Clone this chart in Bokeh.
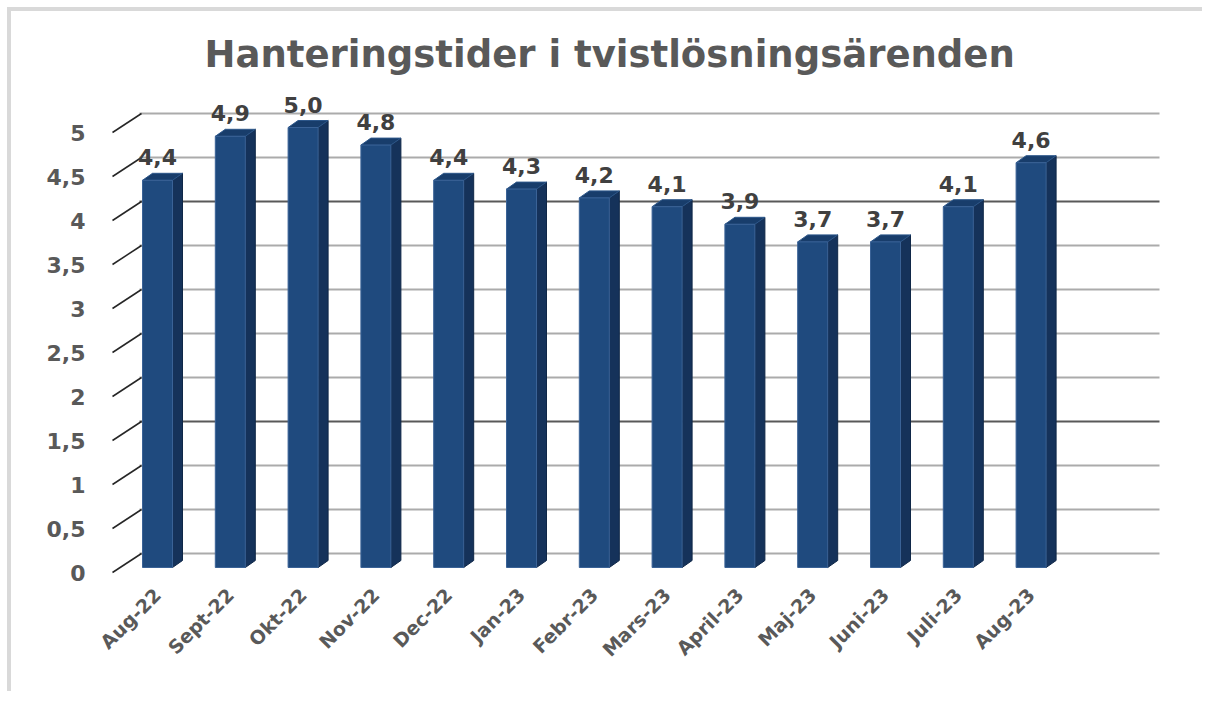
import math
from bokeh.plotting import figure
from bokeh.models import Range1d, FixedTicker, Title
from bokeh.embed import file_html
from bokeh.resources import INLINE

# ---------------- data ----------------
months = ["Aug-22", "Sept-22", "Okt-22", "Nov-22", "Dec-22", "Jan-23", "Febr-23",
          "Mars-23", "April-23", "Maj-23", "Juni-23", "Juli-23", "Aug-23"]
values = [4.4, 4.9, 5.0, 4.8, 4.4, 4.3, 4.2, 4.1, 3.9, 3.7, 3.7, 4.1, 4.6]
value_labels = ["4,4", "4,9", "5,0", "4,8", "4,4", "4,3", "4,2", "4,1", "3,9",
                "3,7", "3,7", "4,1", "4,6"]
y_ticks = [0, 0.5, 1, 1.5, 2, 2.5, 3, 3.5, 4, 4.5, 5]
y_tick_labels = ["0", "0,5", "1", "1,5", "2", "2,5", "3", "3,5", "4", "4,5", "5"]
title_text = "Hanteringstider i tvistlösningsärenden"

# ---------------- geometry (pixels -> data units) ----------------
XS = 72.8   # px per category
YS = 88.0   # px per value unit
half_w = 15 / XS          # half bar width
bar_base = 5 / YS         # bars sit a bit behind the label plane
ddx, ddy = 10 / XS, 7 / YS  # bar depth
wall_dy = 19 / YS         # back wall offset
wall_x0, wall_x1 = -18 / XS, 1002 / XS
diag_x0, diag_x1 = -45 / XS, -16 / XS

FONT = "DejaVu Sans"
GREY = "#595959"

p = figure(width=1195, height=684, output_backend="svg", toolbar_location=None,
           x_range=Range1d(-50 / XS, 1032 / XS), y_range=Range1d(-12 / YS, 483 / YS),
           min_border_left=96, min_border_right=17, min_border_top=78,
           min_border_bottom=111)
p.styles = {"border-left": "4px solid #d9d9d9", "border-top": "4px solid #d9d9d9",
            "margin-left": "7px", "margin-top": "7px"}
p.outline_line_color = None
p.xgrid.visible = False
p.ygrid.visible = False
p.background_fill_color = "white"
p.border_fill_color = "white"

# back wall gridlines
wall_colors = ["#595959" if t in (1.5, 4) else "#ababab" for t in y_ticks]
p.segment(x0=[wall_x0] * len(y_ticks), y0=[t + wall_dy for t in y_ticks],
          x1=[wall_x1] * len(y_ticks), y1=[t + wall_dy for t in y_ticks],
          line_color=wall_colors, line_width=2)
# diagonal depth ticks
p.segment(x0=[diag_x0] * len(y_ticks), y0=y_ticks,
          x1=[diag_x1] * len(y_ticks), y1=[t + wall_dy for t in y_ticks],
          line_color="#262626", line_width=1.5)

xs_idx = list(range(len(months)))
side_xs, side_ys, top_xs, top_ys = [], [], [], []
for i, v in zip(xs_idx, values):
    xl, xr = i - half_w, i + half_w
    top = bar_base + v
    side_xs.append([xr, xr + ddx, xr + ddx, xr])
    side_ys.append([bar_base, bar_base + ddy, top + ddy, top])
    top_xs.append([xl, xr, xr + ddx, xl + ddx])
    top_ys.append([top, top, top + ddy, top + ddy])

p.patches(side_xs, side_ys, fill_color="#15325a", line_color="#0f2747", line_width=1)
p.patches(top_xs, top_ys, fill_color="#183d6b", line_color="#2c5689", line_width=1)
p.vbar(x=xs_idx, width=2 * half_w, bottom=bar_base, top=[bar_base + v for v in values],
       fill_color="#1f4a7e", line_color="#3a6296", line_width=1)

# value labels
p.text(x=xs_idx, y=[bar_base + v for v in values], text=value_labels,
       text_align="center", text_baseline="middle", y_offset=-23,
       text_font={"value": FONT}, text_font_style="bold", text_font_size="22px",
       text_color="#404040")

# axes
p.yaxis.ticker = FixedTicker(ticks=y_ticks)
p.yaxis.major_label_overrides = {t: s for t, s in zip(y_ticks, y_tick_labels)}
p.xaxis.ticker = FixedTicker(ticks=xs_idx)
p.xaxis.major_label_overrides = {i: m for i, m in zip(xs_idx, months)}
p.xaxis.major_label_orientation = math.pi / 4
for ax in (p.xaxis, p.yaxis):
    ax.axis_line_color = None
    ax.major_tick_line_color = None
    ax.minor_tick_line_color = None
    ax.major_label_text_font = FONT
    ax.major_label_text_font_style = "bold"
    ax.major_label_text_color = GREY
p.yaxis.major_label_text_font_size = "22px"
p.yaxis.major_label_standoff = 16
p.xaxis.major_label_text_font_size = "19px"
p.xaxis.major_label_standoff = 1

p.title = Title(text=title_text, align="left", offset=97, text_font=FONT,
                text_font_style="bold", text_font_size="37px", text_color=GREY,
                standoff=28)

open("out.html", "w").write(file_html(p, INLINE))
